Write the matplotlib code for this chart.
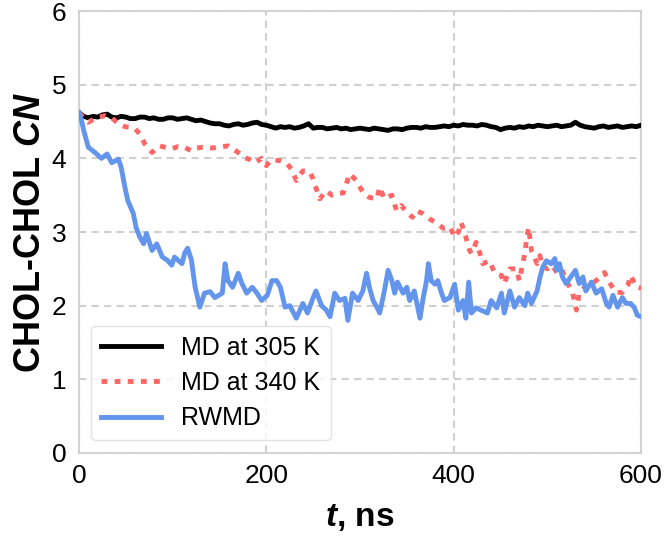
import numpy as np
import matplotlib.pyplot as plt

plt.rcParams['font.family'] = ['Liberation Sans', 'DejaVu Sans']
plt.rcParams['mathtext.fontset'] = 'custom'
plt.rcParams['mathtext.it'] = 'Liberation Sans:italic:bold'
plt.rcParams['mathtext.rm'] = 'Liberation Sans:bold'

# MD at 305 K
t_305 = [0, 5, 10, 15, 20, 25, 30, 35, 40, 45, 50, 55, 60, 65, 70, 75, 80, 85, 90, 95,
         100, 105, 110, 115, 120, 125, 130, 135, 140, 145, 150, 155, 160, 165, 170, 175,
         180, 185, 190, 195, 200, 205, 210, 215, 220, 225, 230, 235, 240, 245, 250, 255,
         260, 265, 270, 275, 280, 285, 290, 295, 300, 305, 310, 315, 320, 325, 330, 335,
         340, 345, 350, 355, 360, 365, 370, 375, 380, 385, 390, 395, 400, 405, 410, 415,
         420, 425, 430, 435, 440, 445, 450, 455, 460, 465, 470, 475, 480, 485, 490, 495,
         500, 505, 510, 515, 520, 525, 530, 535, 540, 545, 550, 555, 560, 565, 570, 575,
         580, 585, 590, 595, 600]
cn_305 = [4.62, 4.57, 4.55, 4.57, 4.56, 4.59, 4.60, 4.56, 4.55, 4.57, 4.56, 4.54, 4.54, 4.56,
          4.56, 4.54, 4.55, 4.53, 4.53, 4.55, 4.55, 4.53, 4.54, 4.55, 4.53, 4.51, 4.52, 4.50,
          4.48, 4.47, 4.47, 4.45, 4.44, 4.46, 4.47, 4.45, 4.46, 4.48, 4.49, 4.46, 4.45, 4.43,
          4.41, 4.43, 4.42, 4.43, 4.41, 4.42, 4.44, 4.47, 4.41, 4.42, 4.42, 4.40, 4.41, 4.42,
          4.40, 4.41, 4.39, 4.40, 4.41, 4.40, 4.39, 4.41, 4.40, 4.39, 4.38, 4.40, 4.40, 4.39,
          4.41, 4.42, 4.42, 4.41, 4.43, 4.42, 4.42, 4.43, 4.44, 4.43, 4.45, 4.44, 4.46, 4.45,
          4.45, 4.44, 4.46, 4.45, 4.43, 4.42, 4.39, 4.41, 4.42, 4.41, 4.43, 4.42, 4.44, 4.43,
          4.45, 4.44, 4.43, 4.44, 4.45, 4.43, 4.44, 4.45, 4.49, 4.45, 4.43, 4.42, 4.41, 4.43,
          4.44, 4.42, 4.43, 4.44, 4.42, 4.43, 4.44, 4.43, 4.45]

# MD at 340 K
t_340 = [0, 5, 10, 18, 28, 35, 42, 49, 55, 60, 65, 70, 78, 86, 92, 99, 106, 113, 120, 126,
         131, 140, 150, 159, 165, 170, 177, 183, 188, 195, 200, 205, 214, 222, 227, 232, 239,
         246, 250, 253, 257, 264, 270, 275, 282, 289, 296, 303, 310, 318, 321, 326, 334, 339,
         344, 350, 356, 360, 367, 374, 382, 389, 396, 401, 405, 408, 413, 417, 419, 424, 428,
         431, 438, 444, 451, 454, 460, 467, 470, 476, 478, 480, 483, 489, 492, 495, 500, 505,
         510, 515, 520, 527, 531, 534, 542, 548, 556, 561, 566, 573, 580, 586, 589, 595, 600]
cn_340 = [4.62, 4.55, 4.49, 4.55, 4.58, 4.55, 4.47, 4.43, 4.42, 4.40, 4.33, 4.20, 4.08, 4.17,
          4.15, 4.13, 4.16, 4.15, 4.10, 4.14, 4.15, 4.14, 4.15, 4.17, 4.12, 4.08, 4.01, 3.98,
          3.94, 4.00, 3.90, 3.98, 3.97, 3.93, 3.85, 3.70, 3.83, 3.82, 3.72, 3.60, 3.45, 3.56,
          3.50, 3.52, 3.53, 3.79, 3.70, 3.54, 3.47, 3.45, 3.61, 3.45, 3.50, 3.29, 3.36, 3.27,
          3.20, 3.29, 3.25, 3.18, 3.12, 3.05, 3.07, 2.93, 3.00, 3.13, 2.93, 2.75, 2.71, 2.86,
          2.71, 2.57, 2.61, 2.44, 2.41, 2.30, 2.50, 2.50, 2.34, 2.71, 2.93, 3.06, 2.75, 2.57,
          2.68, 2.53, 2.50, 2.55, 2.45, 2.50, 2.35, 2.17, 1.94, 2.17, 2.28, 2.30, 2.38, 2.45,
          2.32, 2.18, 2.18, 2.28, 2.41, 2.25, 2.24]

# RWMD
t_rw = [0, 3, 5, 10, 17, 24, 30, 35, 42, 45, 49, 52, 58, 61, 65, 69, 72, 78, 83, 89, 94, 99,
        102, 110, 113, 116, 120, 124, 129, 134, 140, 145, 153, 156, 159, 164, 170, 174, 179,
        185, 190, 195, 201, 206, 211, 215, 220, 225, 232, 239, 244, 250, 253, 259, 264, 268,
        273, 278, 284, 287, 292, 298, 303, 307, 310, 314, 318, 321, 326, 330, 334, 337, 340,
        346, 350, 353, 358, 364, 367, 371, 373, 376, 380, 383, 387, 390, 396, 401, 405, 410,
        413, 416, 419, 424, 429, 436, 440, 446, 451, 454, 460, 465, 470, 476, 479, 483, 489,
        492, 495, 499, 504, 508, 510, 513, 516, 520, 525, 530, 534, 538, 541, 547, 552, 558,
        563, 566, 570, 575, 580, 584, 589, 593, 596, 600]
cn_rw = [4.62, 4.50, 4.38, 4.15, 4.08, 4.00, 4.06, 3.94, 3.99, 3.88, 3.61, 3.43, 3.25, 3.06,
         2.93, 2.84, 2.98, 2.75, 2.84, 2.66, 2.62, 2.55, 2.66, 2.57, 2.72, 2.78, 2.62, 2.25,
         1.98, 2.17, 2.19, 2.11, 2.17, 2.57, 2.34, 2.25, 2.44, 2.30, 2.17, 2.25, 2.17, 2.07,
         2.14, 2.34, 2.34, 2.25, 1.98, 2.00, 1.83, 2.03, 1.90, 2.11, 2.20, 2.00, 1.94, 1.85,
         2.17, 2.07, 2.10, 1.80, 2.17, 2.07, 2.20, 2.44, 2.25, 2.07, 1.98, 1.90, 2.20, 2.48,
         2.34, 2.17, 2.32, 2.17, 2.25, 2.07, 2.20, 1.83, 2.07, 2.34, 2.57, 2.34, 2.29, 2.34,
         2.17, 2.07, 2.11, 2.29, 1.94, 2.07, 1.83, 2.32, 1.90, 1.97, 1.94, 1.90, 2.07, 1.97,
         2.17, 1.90, 2.20, 1.98, 2.11, 2.00, 2.17, 2.03, 2.20, 2.38, 2.52, 2.61, 2.57, 2.64,
         2.48, 2.57, 2.39, 2.30, 2.39, 2.48, 2.30, 2.39, 2.20, 2.32, 2.17, 2.23, 2.03, 1.98,
         2.14, 1.98, 2.11, 2.03, 2.03, 1.97, 1.87, 1.85]

x_ticks = [0, 200, 400, 600]
y_ticks = [0, 1, 2, 3, 4, 5, 6]

fig = plt.figure(figsize=(6.66, 5.38), dpi=100)
ax = fig.add_axes([0.1186, 0.158, 0.8439, 0.8215])

ax.plot(t_305, cn_305, color='black', lw=3.5, label='MD at 305 K', zorder=3)
ax.plot(t_340, cn_340, color='#ff6666', lw=3.5, ls=(0, (1.2, 1.5)), label='MD at 340 K', zorder=3)
ax.plot(t_rw, cn_rw, color='#6495ed', lw=3.5, label='RWMD', zorder=3)

ax.set_xlim(0, 600)
ax.set_ylim(0, 6)
ax.set_xticks(x_ticks)
ax.set_yticks(y_ticks)
ax.tick_params(length=0, labelsize=19)
ax.tick_params(axis='x', pad=8)
ax.tick_params(axis='y', pad=9)
ax.grid(True, color='#d0d0d0', ls=(0, (3.5, 2.5)), lw=1.5)
ax.set_axisbelow(True)
for s in ax.spines.values():
    s.set_color('#d3d3d3')
    s.set_linewidth(1.5)

ax.set_xlabel('$t$, ns', fontsize=24, fontweight='bold', labelpad=10)
ax.set_ylabel('CHOL-CHOL $CN$', fontsize=26, fontweight='bold', labelpad=3)

leg = ax.legend(loc='lower left', fontsize=18, handlelength=2.4, frameon=True,
                borderaxespad=0.5, labelspacing=0.45)
leg.get_frame().set_edgecolor('#dddddd')

fig.savefig('out.png', dpi=100)
